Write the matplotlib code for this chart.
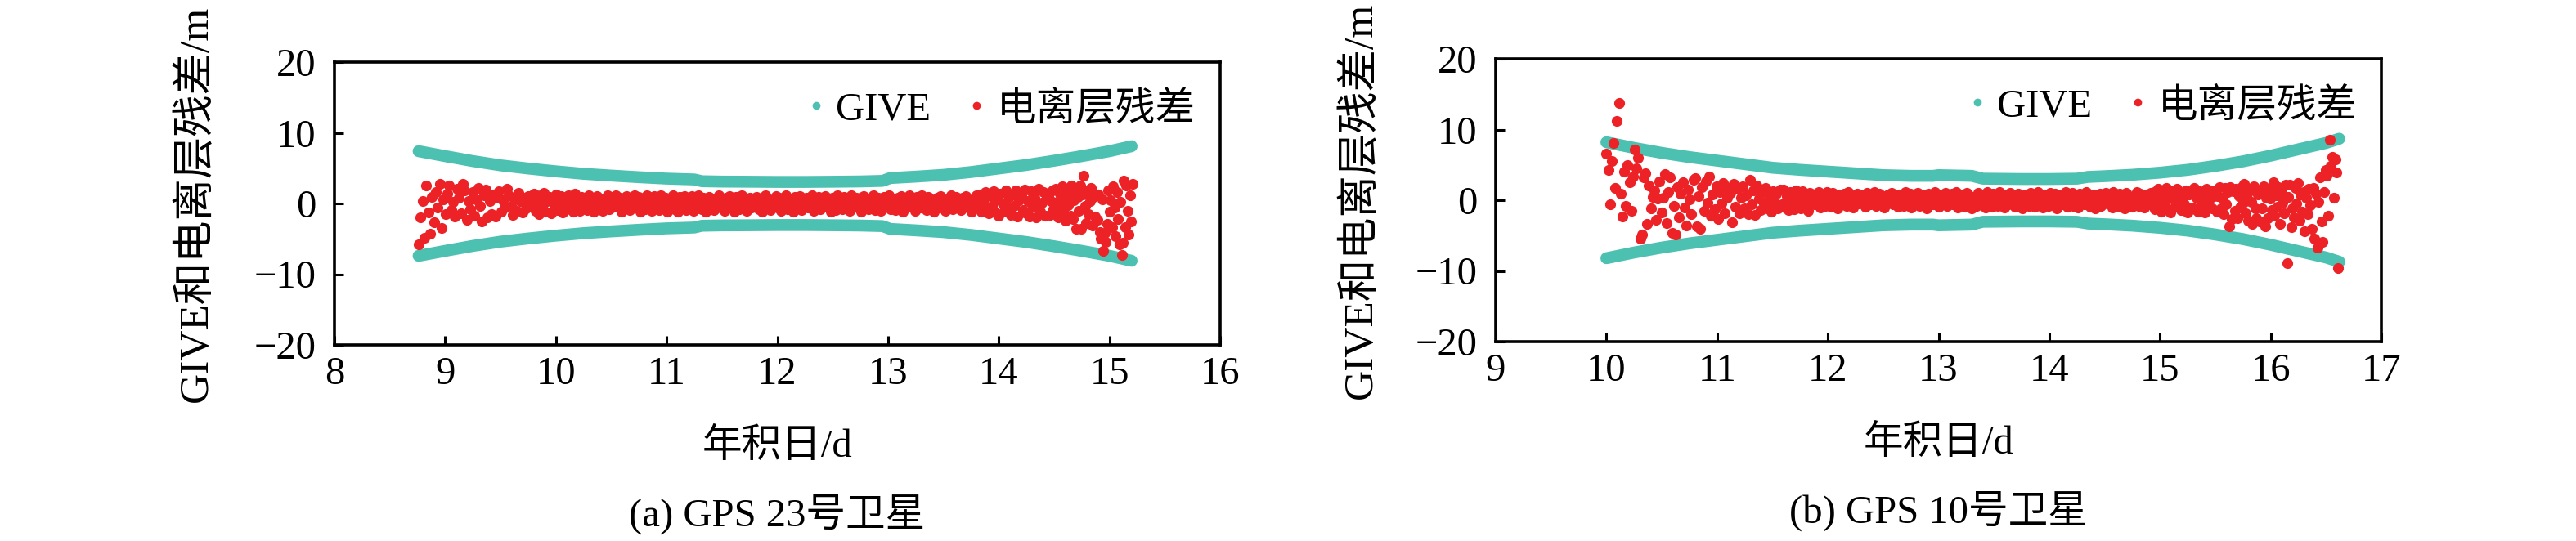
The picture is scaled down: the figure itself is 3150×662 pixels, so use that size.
import matplotlib
matplotlib.use("Agg")
import matplotlib.pyplot as plt
from matplotlib.lines import Line2D
import numpy as np

plt.rcParams['font.family'] = ['Liberation Serif', 'Noto Sans CJK SC']
plt.rcParams['axes.unicode_minus'] = True

TEAL = '#4CC0B1'
RED = '#EC2227'

# ---------------- data: panel (a) GPS 23 ----------------
give_day_a = [8.76, 9.0, 9.25, 9.5, 9.75, 10.0, 10.25, 10.5, 10.75, 11.0, 11.25, 11.32,
              11.5, 11.75, 12.0, 12.25, 12.5, 12.75, 12.95, 13.02, 13.25, 13.5, 13.75,
              14.0, 14.25, 14.5, 14.75, 15.0, 15.2]
give_a = [7.4, 6.7, 6.0, 5.4, 4.95, 4.55, 4.2, 3.95, 3.72, 3.52, 3.4, 3.15,
          3.1, 3.08, 3.05, 3.05, 3.08, 3.12, 3.2, 3.6, 3.8, 4.05, 4.45,
          4.95, 5.45, 6.05, 6.7, 7.4, 8.1]

# residual segments: (first day, last day) and the values read in between
res_span_a = [(8.76, 9.80), (9.80, 14.45), (14.45, 15.22)]
res_a_left = [
    -5.8, -2.0, 0.3, -4.8, 2.6, -1.3, -4.3, 0.9, -2.7, 1.6,
    -0.6, 2.8, -3.5, 0.6, -1.5, 1.4, 2.6, -0.9, 0.2, -1.9,
    2.1, 0.8, -1.4, 2.8, 1.9, -2.3, 0.3, -0.8, 1.6, -1.7,
    0.6, 2.2, -0.4, -2.5, 1.1, 2.0, -2.0, 0.4, -1.5, 1.3,
    -1.8, 0.9, 1.7, -1.1, 0.5, -0.6, 2.1, 1.2, -0.4, -1.6,
    0.7, -1.0, 1.5, 0.3, -1.3, 0.8, -0.7, 1.0, -0.2, 0.4,
]
res_a_mid = [
    1.4, -1.0, 0.5, -1.5, 1.1, -0.4, 1.5, -1.2, 0.3, 0.9,
    -1.4, 0.6, -0.5, 1.3, -0.9, 0.1, 1.0, -1.3, 0.8, -0.3,
    1.2, -0.8, 0.4, -1.2, 1.4, -0.1, 0.6, -1.0, 0.9, -0.5,
    0.5, -0.9, 1.2, -0.3, 0.8, -1.2, 0.1, 1.0, -0.7, 0.4,
    -1.0, 0.7, -0.1, 1.2, -0.8, 0.3, 0.9, -0.5, 1.1, -0.4,
    0.8, -1.2, 0.4, -0.7, 1.0, 0.0, -0.9, 0.6, -0.3, 1.2,
    -0.5, 0.9, -1.1, 0.3, 0.6, -0.8, 1.2, -0.1, 0.5, -1.0,
    1.0, -0.4, 0.1, -0.9, 1.2, -0.6, 0.4, 0.8, -1.2, 0.3,
    -0.3, 1.1, -0.8, 0.5, -1.2, 0.9, 0.0, -0.5, 1.0, -0.9,
    0.6, -0.1, 1.0, -1.0, 0.4, -0.7, 1.2, 0.1, -0.8, 0.8,
    -1.1, 0.4, 0.9, -0.4, 0.0, -0.9, 0.6, -0.3, 1.2, -0.6,
    0.3, -1.0, 0.8, -0.1, 1.0, -0.5, 0.5, -1.2, 0.9, 0.0,
    -0.8, 1.2, -0.4, 0.6, -1.0, 0.1, 0.8, -0.6, 0.4, -0.3,
    0.9, -0.8, 0.3, -1.2, 0.6, 1.1, -0.4, 0.1, -0.9, 0.5,
    -0.1, 1.0, -0.6, 0.8, -1.0, 0.4, -0.3, 1.2, -0.8, 0.0,
    0.6, -1.2, 0.9, -0.5, 0.3, 1.0, -0.9, 0.5, -0.1, 0.8,
    -0.6, 0.1, 1.2, -1.0, 0.4, -0.4, 0.9, -0.8, 0.6, -0.3,
    1.0, -0.5, 0.0, -1.2, 0.8, 0.3, -0.9, 1.2, -0.4, 0.5,
    -0.8, 0.9, -0.3, 0.4, -1.0, 1.1, -0.5, 0.1, 0.8, -0.6,
    0.3, -1.2, 1.0, -0.1, 0.6, -0.8, 0.5, -0.4, 1.2, -0.9,
    -0.1, 0.8, -1.0, 0.4, 0.9, -0.5, 0.0, 1.2, -0.8, 0.6,
    0.4, -0.9, 0.8, -0.3, 1.0, -1.2, 0.3, 0.6, -0.5, 1.2,
    -0.4, 0.5, -1.0, 0.9, 0.1, -0.6, 1.2, -0.3, 0.8, -0.9,
    0.9, -0.1, 0.5, -1.2, 0.3, 0.8, -0.6, 1.0, -0.4, 0.0,
    -1.0, 0.6, -0.5, 1.2, -0.8, 0.4, 0.9, -0.3, 0.1, -0.9,
    0.8, -0.4, 1.0, -0.6, 0.3, -1.2, 0.6, 0.0, 1.2, -0.5,
    1.3, -1.2, 0.4, 1.6, -0.8, -1.4, 1.0, -0.4, 1.7, -1.3,
    0.6, -1.7, 1.4, 0.0, -1.0, 1.8, -0.6, 0.9, -1.6, 1.3,
    -0.3, 1.9, -1.8, 0.5, 1.2, -0.9, 2.0, -1.4, 0.3, -1.9,
    1.7, -0.5, 0.8, -2.0, 2.1, -1.2, 0.1, 1.6, -1.7, 1.0,
]
res_a_right = [
    1.1, -1.6, 0.4, 1.9, -0.8, -1.4, 2.1, 0.2, -2.0, 1.4,
    -0.5, 2.4, -1.1, 0.7, -2.4, 1.6, -0.2, 1.0, -1.7, 2.6,
    -2.2, 0.5, 1.7, -3.6, 0.9, -1.0, 2.6, -3.6, 1.3, 3.9,
    -0.4, -2.8, 1.8, -1.5, 0.3, 2.2, -3.1, 0.9, -1.9, 1.2,
    -2.3, 1.3, -4.0, -5.0, 0.6, -6.7, -4.2, -5.4, -2.9, 1.9,
    -1.2, 0.5, -3.4, 2.4, -0.6, -4.6, 1.6, -2.2, -5.8, 0.2,
    -7.3, -5.5, 3.2, -3.3, 2.5, -1.0, -4.4, 1.1, -2.6, 2.8,
]

# ---------------- data: panel (b) GPS 10 ----------------
give_day_b = [10.0, 10.25, 10.5, 10.75, 11.0, 11.25, 11.5, 11.75, 12.0, 12.25, 12.5,
              12.75, 12.95, 13.0, 13.3, 13.4, 13.75, 14.0, 14.25, 14.35, 14.5, 14.75,
              15.0, 15.25, 15.5, 15.75, 16.0, 16.25, 16.5, 16.62]
give_b = [8.2, 7.4, 6.7, 6.1, 5.6, 5.1, 4.6, 4.3, 4.05, 3.8, 3.55,
          3.45, 3.45, 3.55, 3.45, 3.05, 3.0, 3.0, 3.05, 3.3, 3.4, 3.6,
          3.9, 4.3, 4.85, 5.5, 6.3, 7.2, 8.1, 8.7]

res_span_b = [(10.0, 11.6), (11.6, 15.5), (15.5, 16.62)]
res_b_left = [
    6.6, 4.3, -0.6, 5.6, 8.1, 1.7, 11.2, 13.8, 0.9, -2.3,
    4.1, -0.8, 5.0, 2.6, -1.5, 3.4, 7.2, 4.5, 6.0, -5.4,
    -4.8, 3.2, 3.8, -3.3, 2.1, -1.2, 0.5, 1.4, -2.8, 0.2,
    2.7, -1.7, 0.4, 3.7, -3.2, 1.2, 3.2, -4.6, -0.8, -4.9,
    1.8, -2.4, 0.9, 2.5, -1.0, -3.6, 1.5, 0.1, -2.0, 2.9,
    3.1, -3.7, 0.6, -4.0, 1.9, -1.5, 2.7, -0.3, 3.4, -2.2,
    0.8, -1.3, 2.0, -2.7, 1.1, -0.5, 2.4, -1.9, 0.3, 1.6,
    1.0, -3.1, 2.3, -0.9, 1.6, -1.8, 0.4, 2.0, -1.2, 0.7,
    -2.0, 2.9, -0.6, 1.4, -2.1, 2.1, 0.2, -1.4, 1.1, -0.5,
    1.7, -1.1, 0.5, -1.6, 1.3, -0.3, 0.9, -1.2, 1.5, -0.6,
]
res_b_mid = [
    1.5, -1.0, 0.6, -1.4, 1.1, -0.3, 0.8, -1.3, 1.4, -0.5,
    0.4, -1.2, 1.3, -0.8, 0.9, 0.0, -1.5, 1.0, -0.4, 0.6,
    -0.6, 0.9, -0.3, 1.2, -1.0, 0.4, 0.6, -0.8, 1.2, -0.4,
    0.3, -0.9, 1.0, -0.5, 0.5, -1.2, 0.8, 0.0, -0.6, 0.9,
    0.1, -0.8, 1.2, -0.3, 0.4, -1.0, 0.6, -0.1, 0.9, -0.5,
    0.8, -0.4, 0.3, -0.9, 1.0, 0.0, -0.6, 0.5, -0.3, 1.2,
    -0.8, 0.4, 0.9, -0.5, 0.1, -1.0, 0.6, -0.1, 0.8, -0.4,
    1.0, -0.6, 0.3, 0.5, -0.9, 0.8, -0.3, 0.4, -0.8, 1.2,
    0.0, -0.5, 0.9, -1.0, 0.3, 0.6, -0.4, 1.0, -0.8, 0.1,
    0.8, -0.3, 0.5, -1.2, 0.9, -0.1, 0.4, -0.6, 1.2, -0.5,
    0.3, -0.9, 0.8, 0.0, -0.4, 1.0, -0.8, 0.5, -0.1, 0.9,
    -0.6, 0.4, 1.2, -1.0, 0.1, 0.8, -0.5, 0.3, -0.9, 1.0,
    -0.3, 0.6, -1.2, 0.5, 0.1, -0.8, 1.0, -0.4, 0.8, -0.6,
    0.4, -1.0, 1.2, -0.1, 0.6, -0.9, 0.9, -0.5, 0.3, -0.8,
    1.2, -0.4, 0.0, -1.0, 0.8, 0.4, -0.6, 1.0, -0.3, 0.5,
    -0.9, 0.1, 0.9, -0.5, 0.6, -1.2, 0.3, 0.8, -0.1, -0.8,
    1.0, -0.4, 0.5, -0.9, 0.0, 1.2, -0.6, 0.4, -1.0, 0.8,
    -0.1, 0.6, -0.8, 1.0, -0.5, 0.3, 0.9, -1.2, 0.5, -0.3,
    0.8, -0.6, 0.1, 1.2, -0.9, 0.4, -0.4, 1.0, -0.8, 0.0,
    0.6, -1.0, 0.9, -0.3, 0.5, -0.6, 1.2, -0.5, 0.1, -0.9,
    0.4, 0.8, -1.2, 0.3, -0.1, 0.9, -0.8, 0.6, -0.4, 1.0,
    -0.5, 0.0, 0.8, -1.0, 1.2, -0.3, 0.4, -0.8, 0.9, -0.6,
    0.1, -1.2, 1.0, -0.4, 0.6, 0.3, -0.9, 0.5, -0.5, 1.2,
    -0.8, 0.9, -0.1, 0.4, -1.0, 0.8, 0.0, -0.6, 1.0, -0.3,
    1.2, -1.3, 0.5, 1.6, -0.8, -1.6, 0.9, -0.3, 1.7, -1.2,
    0.6, -1.7, 1.3, 0.1, -0.9, 1.6, -0.5, 1.0, -1.4, 0.4,
    -0.6, 1.4, -1.7, 0.8, 1.2, -1.0, 1.7, -1.3, 0.3, -1.6,
    1.3, -0.4, 0.9, -1.7, 1.6, -0.8, 0.0, 1.4, -1.2, 0.6,
]
res_b_right = [
    1.4, -1.6, 0.6, 1.9, -1.1, 0.3, -2.0, 1.7, -0.6, 1.1,
    -3.7, 1.8, -2.7, 1.3, -1.5, 1.6, -2.5, 0.6, -1.0, 1.9,
    -0.4, 2.3, -1.8, 0.9, -2.9, 1.5, -0.2, -3.3, 2.0, -1.2,
    -2.5, 0.8, -3.0, 1.3, -1.2, 2.0, -3.7, 0.4, -2.5, 1.5,
    0.2, -1.4, 2.5, -2.2, 0.7, -0.9, 1.8, -3.4, 1.0, -0.3,
    -1.8, 2.2, -8.9, 0.5, 2.2, -3.8, -1.1, -2.4, 1.7, -0.5,
    2.4, -2.9, 0.8, -1.6, 1.2, -4.4, 0.3, -2.0, 1.6, -0.7,
    -4.0, 1.7, -5.4, 0.9, -6.7, -0.2, 3.2, -3.0, -5.9, 1.1,
    4.3, 3.5, -2.2, 8.6, 4.9, 6.1, 0.4, 5.8, 3.9, -9.6,
]

xlabel = '年积日/d'
ylabel = 'GIVE和电离层残差/m'
legend_labels = ['GIVE', '电离层残差']
captions = ['(a) GPS 23号卫星', '(b) GPS 10号卫星']
xticks_a = [8, 9, 10, 11, 12, 13, 14, 15, 16]
xticks_b = [9, 10, 11, 12, 13, 14, 15, 16, 17]
yticks = [-20, -10, 0, 10, 20]

W, H = 3150, 662
fig = plt.figure(figsize=(W / 100, H / 100), dpi=100)

panels = [
    dict(rect=[409 / W, (H - 422) / H, 1083 / W, 346 / H], gday=give_day_a, give=give_a,
         spans=res_span_a, segs=[res_a_left, res_a_mid, res_a_right],
         xticks=xticks_a, cap=captions[0], ylx=-0.156),
    dict(rect=[1829 / W, (H - 418) / H, 1083 / W, 346 / H], gday=give_day_b, give=give_b,
         spans=res_span_b, segs=[res_b_left, res_b_mid, res_b_right],
         xticks=xticks_b, cap=captions[1], ylx=-0.152),
]

FS = 35
for p in panels:
    ax = fig.add_axes(p['rect'])
    gd = np.array(p['gday'])
    gv = np.array(p['give'])
    for sign in (1, -1):
        ax.plot(gd, sign * gv, color=TEAL, lw=10.5, solid_capstyle='round',
                solid_joinstyle='round', zorder=2)
    for (d0, d1), vals in zip(p['spans'], p['segs']):
        vals = np.array(vals)
        xr = np.linspace(d0, d1, len(vals), endpoint=False)
        ax.scatter(xr, vals, s=90, color=RED, linewidths=0, zorder=3)

    ax.set_xlim(p['xticks'][0], p['xticks'][-1])
    ax.set_ylim(-20, 20)
    ax.set_xticks(p['xticks'])
    ax.set_yticks(yticks)
    ax.tick_params(direction='in', length=8, width=2.2, labelsize=FS, top=False, right=False)
    ax.tick_params(axis='x', pad=10)
    ax.tick_params(axis='y', pad=16)
    for s in ax.spines.values():
        s.set_linewidth(2.6)

    ax.set_xlabel(xlabel, fontsize=FS, va='center')
    ax.xaxis.set_label_coords(0.5, -0.36)
    ax.set_ylabel(ylabel, fontsize=37, va='center')
    ax.yaxis.set_label_coords(p['ylx'], 0.5)
    ax.text(0.5, -0.60, p['cap'], transform=ax.transAxes, ha='center', va='center', fontsize=FS)

    handles = [Line2D([], [], ls='none', marker='o', ms=7, color=TEAL, mec='none'),
               Line2D([], [], ls='none', marker='o', ms=7, color=RED, mec='none')]
    ax.legend(handles, legend_labels, loc='upper right', bbox_to_anchor=(0.972, 0.90),
              ncol=2, frameon=False, fontsize=FS, handlelength=0.5, handletextpad=0.25,
              columnspacing=0.9, borderaxespad=0, borderpad=0)

fig.savefig('out.png', dpi=100)
